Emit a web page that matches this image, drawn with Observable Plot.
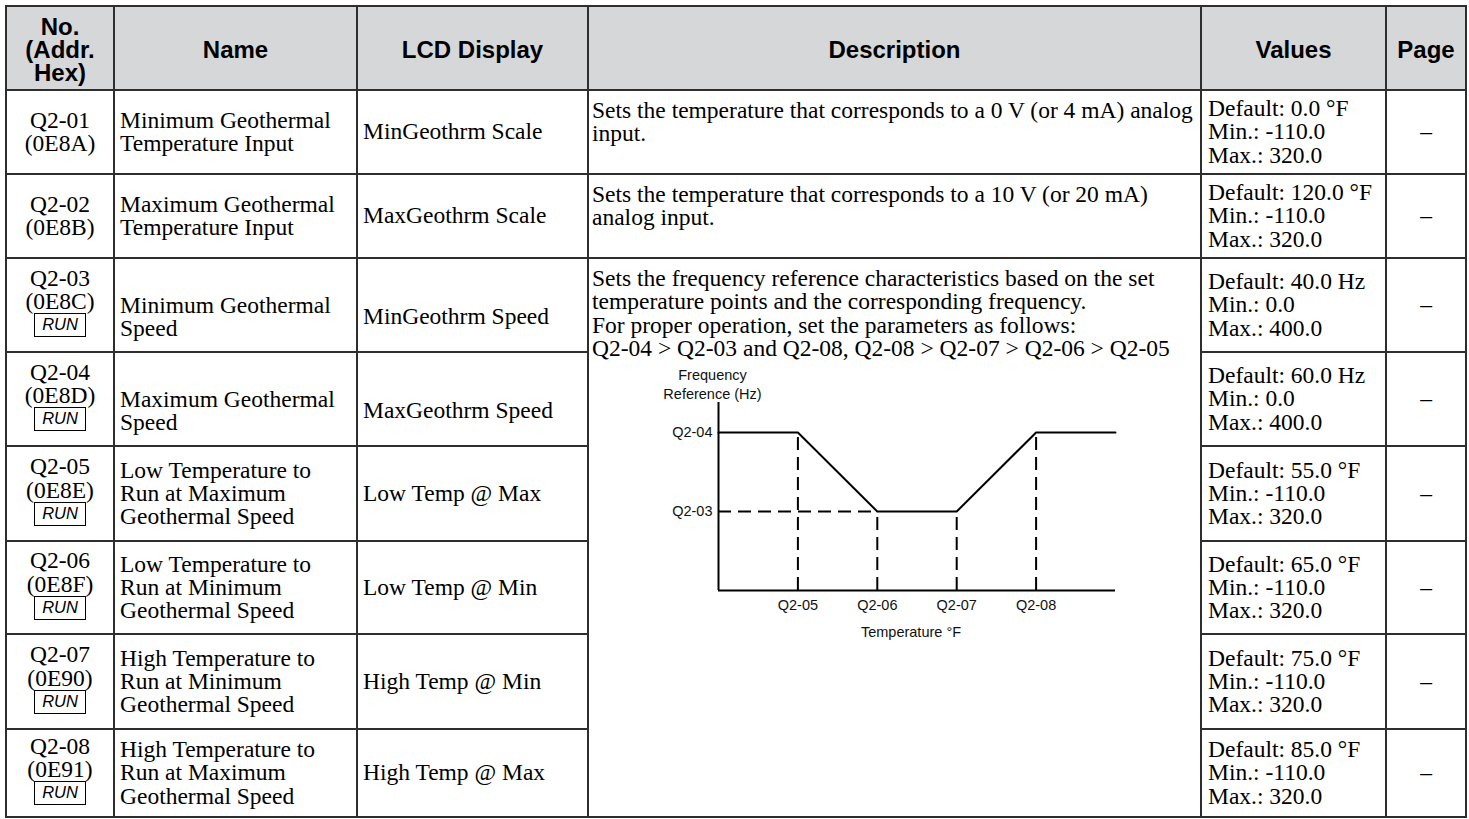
<!DOCTYPE html>
<html>
<head>
<meta charset="utf-8">
<script src="https://cdn.jsdelivr.net/npm/d3@7"></script>
<script src="https://cdn.jsdelivr.net/npm/@observablehq/plot@0.6"></script>
<style>
  html, body { margin: 0; padding: 0; background: #fff; }
  body { width: 1469px; height: 819px; position: relative; overflow: hidden; }
  table { position: absolute; left: 5px; top: 5px; border-collapse: collapse; table-layout: fixed; width: 1462px; }
  td, th { border: 2px solid #2e2e2e; padding: 0; color: #000; vertical-align: middle;
           font: 23.5px/23.3px "Liberation Serif", "Times New Roman", serif; white-space: pre; overflow: hidden; }
  th { background: #d6d7d9; font: bold 24px/23px "Liberation Sans", Arial, sans-serif; text-align: center; padding-top: 2px; }
  td.no { text-align: center; padding-bottom: 6px; }
  td.name { padding-left: 5px; }
  td.lcd { padding-left: 5px; }
  td.low { padding-top: 24px; }
  td.desc { padding-left: 3px; padding-top: 8px; vertical-align: top; }
  td.vals { padding-left: 6px; }
  td.page { text-align: center; }
  .run { display: block; box-sizing: border-box; width: 52px; height: 24px; margin: 0 auto;
         border: 1.6px solid #000; font: italic 16.5px/21px "Liberation Sans", Arial, sans-serif; text-align: center; }
  #chart { position: absolute; left: 640px; top: 355px; }
  #chart svg { overflow: visible; }
</style>
</head>
<body>
<table id="tbl"></table>
<div id="chart"></div>
<script>
// ---- table data ----
const headers = ["No.\n(Addr.\nHex)", "Name", "LCD Display", "Description", "Values", "Page"];
const paramNo = ["Q2-01", "Q2-02", "Q2-03", "Q2-04", "Q2-05", "Q2-06", "Q2-07", "Q2-08"];
const paramAddr = ["0E8A", "0E8B", "0E8C", "0E8D", "0E8E", "0E8F", "0E90", "0E91"];
const paramRun = [false, false, true, true, true, true, true, true];
const paramName = [
  "Minimum Geothermal\nTemperature Input",
  "Maximum Geothermal\nTemperature Input",
  "Minimum Geothermal\nSpeed",
  "Maximum Geothermal\nSpeed",
  "Low Temperature to\nRun at Maximum\nGeothermal Speed",
  "Low Temperature to\nRun at Minimum\nGeothermal Speed",
  "High Temperature to\nRun at Minimum\nGeothermal Speed",
  "High Temperature to\nRun at Maximum\nGeothermal Speed"
];
const lcdDisplay = ["MinGeothrm Scale", "MaxGeothrm Scale", "MinGeothrm Speed", "MaxGeothrm Speed",
  "Low Temp @ Max", "Low Temp @ Min", "High Temp @ Min", "High Temp @ Max"];
const descriptions = [
  "Sets the temperature that corresponds to a 0 V (or 4 mA) analog\ninput.",
  "Sets the temperature that corresponds to a 10 V (or 20 mA)\nanalog input.",
  "Sets the frequency reference characteristics based on the set\ntemperature points and the corresponding frequency.\nFor proper operation, set the parameters as follows:\nQ2-04 > Q2-03 and Q2-08, Q2-08 > Q2-07 > Q2-06 > Q2-05"
];
const descRowSpan = [1, 1, 6];
const defaults = ["0.0 °F", "120.0 °F", "40.0 Hz", "60.0 Hz", "55.0 °F", "65.0 °F", "75.0 °F", "85.0 °F"];
const minValues = ["-110.0", "-110.0", "0.0", "0.0", "-110.0", "-110.0", "-110.0", "-110.0"];
const maxValues = ["320.0", "320.0", "400.0", "400.0", "320.0", "320.0", "320.0", "320.0"];
const pages = ["–", "–", "–", "–", "–", "–", "–", "–"];

// ---- chart data (schematic frequency profile) ----
const tempTicks = ["Q2-05", "Q2-06", "Q2-07", "Q2-08"];   // temperature set points, x positions 1..4
const freqTicks = ["Q2-03", "Q2-04"];                     // frequency levels, y positions 1..2
const profileTemp = [0, 1, 2, 3, 4, 5];                   // axis start, Q2-05..Q2-08, axis end
const profileFreq = [2, 2, 1, 1, 2, 2];                   // Q2-04, Q2-04, Q2-03, Q2-03, Q2-04, Q2-04

// ---- build table ----
const rowHeights = [84, 84, 84, 94, 94, 95, 93, 95, 88];
const tbl = document.getElementById("tbl");
const colWidths = [108, 243, 231, 613, 185, 80];
const cg = document.createElement("colgroup");
colWidths.forEach(w => { const c = document.createElement("col"); c.style.width = w + "px"; cg.appendChild(c); });
tbl.appendChild(cg);
const hr = document.createElement("tr");
hr.style.height = rowHeights[0] + "px";
headers.forEach(h => { const th = document.createElement("th"); th.textContent = h; hr.appendChild(th); });
tbl.appendChild(hr);

let descIdx = 0, descLeft = 0;
paramNo.forEach((no, i) => {
  const tr = document.createElement("tr");
  tr.style.height = rowHeights[i + 1] + "px";
  const shortRun = paramRun[i] && paramName[i].split("\n").length === 2;
  const c1 = document.createElement("td"); c1.className = "no";
  c1.textContent = no + "\n(" + paramAddr[i] + ")";
  if (paramRun[i]) { const r = document.createElement("span"); r.className = "run"; r.textContent = "RUN"; c1.appendChild(r); }
  else c1.style.paddingBottom = "0px";
  tr.appendChild(c1);
  const c2 = document.createElement("td"); c2.className = "name" + (shortRun ? " low" : ""); c2.textContent = paramName[i]; tr.appendChild(c2);
  const c3 = document.createElement("td"); c3.className = "lcd" + (shortRun ? " low" : ""); c3.textContent = lcdDisplay[i]; tr.appendChild(c3);
  if (descLeft === 0) {
    const c4 = document.createElement("td"); c4.className = "desc";
    c4.textContent = descriptions[descIdx];
    c4.rowSpan = descRowSpan[descIdx];
    descLeft = descRowSpan[descIdx];
    descIdx++;
    tr.appendChild(c4);
  }
  descLeft--;
  const c5 = document.createElement("td"); c5.className = "vals";
  c5.textContent = "Default: " + defaults[i] + "\nMin.: " + minValues[i] + "\nMax.: " + maxValues[i];
  tr.appendChild(c5);
  const c6 = document.createElement("td"); c6.className = "page"; c6.textContent = pages[i]; tr.appendChild(c6);
  tbl.appendChild(tr);
});

// ---- build chart ----
const profile = profileTemp.map((t, i) => ({t, f: profileFreq[i]}));
const setPoints = profile.filter(d => d.t >= 1 && d.t <= tempTicks.length);
const lowLevel = d3.min(profileFreq);
const firstLow = profile.find(d => d.f === lowLevel);
const dash = {stroke: "#000", strokeWidth: 2, strokeDasharray: "13,7"};

const chart = Plot.plot({
  width: 500,
  height: 300,
  marginLeft: 78,
  marginTop: 47,
  marginRight: 25,
  marginBottom: 65,
  x: {domain: [0, tempTicks.length + 1], ticks: d3.range(1, tempTicks.length + 1),
      tickFormat: i => tempTicks[i - 1], tickSize: 0, tickPadding: 9, label: null},
  y: {domain: [0, 2.38], ticks: d3.range(1, freqTicks.length + 1),
      tickFormat: i => freqTicks[i - 1], tickSize: 0, tickPadding: 6, label: null},
  style: {fontFamily: "'Liberation Sans', Arial, sans-serif", fontSize: "14.5px", color: "#111",
          background: "transparent", overflow: "visible"},
  marks: [
    Plot.ruleX(setPoints, {x: "t", y1: 0, y2: "f", ...dash}),
    Plot.ruleY([firstLow], {y: "f", x1: 0, x2: "t", ...dash}),
    Plot.ruleY([0], {stroke: "#000", strokeWidth: 2}),
    Plot.ruleX([0], {stroke: "#000", strokeWidth: 2}),
    Plot.line(profile, {x: "t", y: "f", stroke: "#000", strokeWidth: 2}),
    Plot.text(["Frequency\nReference (Hz)"], {frameAnchor: "top-left", text: d => d, textAnchor: "middle",
      lineAnchor: "bottom", lineHeight: 1.25, dx: -6, dy: -4, fill: "#111"}),
    Plot.text(["Temperature °F"], {frameAnchor: "bottom", text: d => d, lineAnchor: "middle",
      dx: -6, dy: 42, fill: "#111"})
  ]
});
document.getElementById("chart").appendChild(chart);
</script>
</body>
</html>
